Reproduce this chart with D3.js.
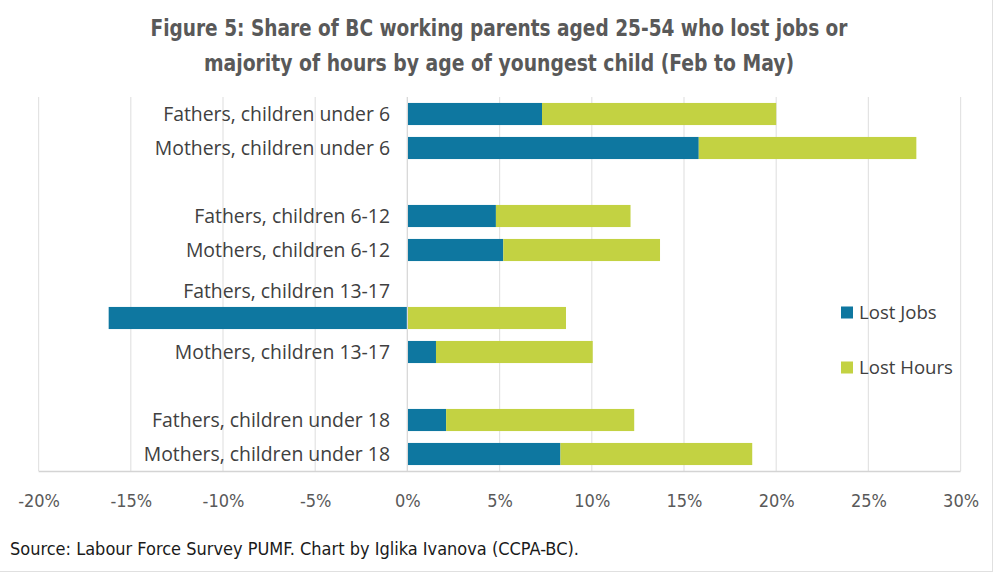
<!DOCTYPE html>
<html><head><meta charset="utf-8">
<script src="https://cdn.jsdelivr.net/npm/d3@7"></script>
<style>body{margin:0;background:#fff} svg{display:block}</style>
</head><body><svg id="c" width="1000" height="573"></svg>
<script>
const categories = ["Fathers, children under 6","Mothers, children under 6","",
  "Fathers, children 6-12","Mothers, children 6-12","",
  "Fathers, children 13-17","Mothers, children 13-17","",
  "Fathers, children under 18","Mothers, children under 18"];
const lostJobs  = [7.3, 15.8, null, 4.8, 5.2, null, -16.2, 1.55, null, 2.1, 8.3];
const lostHours = [12.7, 11.8, null, 7.3, 8.5, null, 8.6, 8.5, null, 10.2, 10.4];
const seriesNames = ["Lost Jobs", "Lost Hours"];
const xTicks = [-20, -15, -10, -5, 0, 5, 10, 15, 20, 25, 30];
const titleLines = ["Figure 5: Share of BC working parents aged 25-54 who lost jobs or",
  "majority of hours by age of youngest child (Feb to May)"];
const sourceText = "Source: Labour Force Survey PUMF. Chart by Iglika Ivanova (CCPA-BC).";

const colors = ["#0e77a0", "#c3d242"];
const narrow = "'Liberation Sans Narrow','DejaVu Sans Condensed',sans-serif";
const sans = "'Open Sans','Noto Sans',sans-serif";

const svg = d3.select("#c");
const x = d3.scaleLinear().domain([-20, 30]).range([38.6, 960.6]);
const y = d3.scaleBand().domain(d3.range(categories.length)).range([97, 471])
  .paddingInner(0.35).paddingOuter(0.175);

// title (compressed to mimic the narrow original face)
const titleWidths = [697, 590];
svg.append("g").selectAll("text").data(titleLines).join("text")
  .attr("x", 499).attr("y", (d, i) => 36 + i * 34.5)
  .attr("text-anchor", "middle")
  .attr("textLength", (d, i) => titleWidths[i]).attr("lengthAdjust", "spacingAndGlyphs")
  .style("font-family", narrow).style("font-weight", "bold").style("font-size", "23px")
  .attr("fill", "#595959").text(d => d);

// gridlines
svg.append("g").selectAll("line").data(xTicks).join("line")
  .attr("x1", d => x(d)).attr("x2", d => x(d)).attr("y1", 97).attr("y2", 471)
  .attr("stroke", "#e3e3e3").attr("stroke-width", 1.2);
svg.append("line").attr("x1", x(-20)).attr("x2", x(30)).attr("y1", 471.5).attr("y2", 471.5)
  .attr("stroke", "#d4d4d4").attr("stroke-width", 1.5);

// bars
const rows = categories.map((c, i) => ({i, jobs: lostJobs[i] ?? 0, hours: lostHours[i] ?? 0}));
const stack = d3.stack().keys(["jobs", "hours"]).offset(d3.stackOffsetDiverging)(rows);
svg.append("g").selectAll("g").data(stack).join("g").attr("fill", (d, k) => colors[k])
  .selectAll("rect").data(d => d.filter(p => categories[p.data.i] !== "")).join("rect")
  .attr("x", p => x(Math.min(p[0], p[1])))
  .attr("width", p => Math.abs(x(p[1]) - x(p[0])))
  .attr("y", p => y(p.data.i)).attr("height", y.bandwidth());

// zero axis line
svg.append("line").attr("x1", x(0)).attr("x2", x(0)).attr("y1", 97).attr("y2", 471)
  .attr("stroke", "#d9d9d9").attr("stroke-width", 1.2);

// category labels
svg.append("g").selectAll("text").data(categories.map((c, i) => ({c, i})).filter(d => d.c !== ""))
  .join("text")
  .attr("x", 390)
  .attr("y", d => y(d.i) + y.bandwidth() / 2 - ((lostJobs[d.i] < 0) ? 27 : 0))
  .attr("dy", "0.35em").attr("text-anchor", "end")
  .style("font-family", sans).style("font-size", "19.4px").attr("fill", "#404040")
  .text(d => d.c);

// x axis labels
const xAxis = d3.axisBottom(x).tickValues(xTicks).tickSize(0).tickFormat(d => d + "%");
const ax = svg.append("g").attr("transform", "translate(0,491)").call(xAxis);
ax.select(".domain").remove();
ax.selectAll("text").style("font-family", narrow).style("font-size", "18px").attr("fill", "#595959");

// legend
const lg = svg.append("g").selectAll("g").data(seriesNames).join("g")
  .attr("transform", (d, k) => `translate(841,${306.5 + k * 55})`);
lg.append("rect").attr("width", 12).attr("height", 12).attr("fill", (d, k) => colors[k]);
lg.append("text").attr("x", 18).attr("y", 6).attr("dy", "0.35em")
  .style("font-family", sans).style("font-size", "18.6px").attr("fill", "#404040").text(d => d);

// source
svg.append("text").attr("x", 10).attr("y", 555).text(sourceText)
  .style("font-family", narrow).style("font-size", "18px").attr("fill", "#1a1a1a");

// frame
svg.append("line").attr("x1", 0).attr("x2", 993).attr("y1", 571.5).attr("y2", 571.5).attr("stroke", "#e0e0e0");
svg.append("line").attr("x1", 992.5).attr("x2", 992.5).attr("y1", 0).attr("y2", 572).attr("stroke", "#e0e0e0");
</script></body></html>
